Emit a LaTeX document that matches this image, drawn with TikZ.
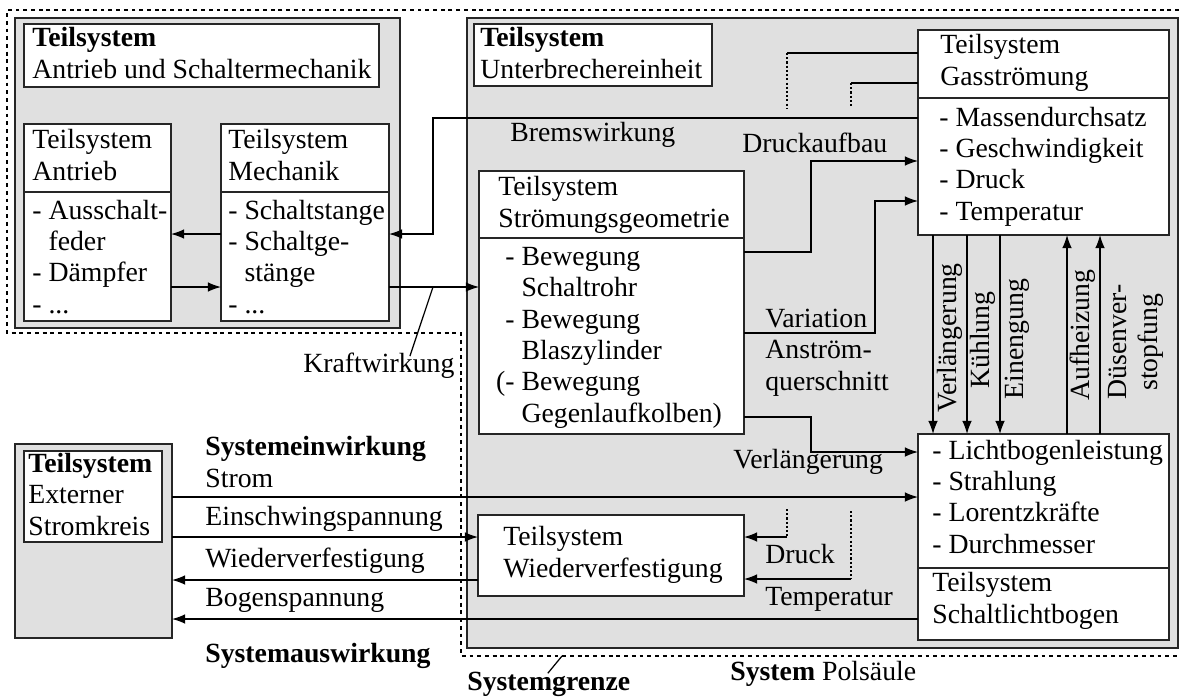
\documentclass[tikz,border=0pt]{standalone}
\usepackage{fontspec}
\setmainfont{Liberation Serif}
\usetikzlibrary{arrows.meta, positioning, fit, calc}

\begin{document}
\begin{tikzpicture}[x=0.02cm, y=-0.02cm, font=\fontsize{15.8}{17.8}\selectfont]%[scale=.8]
    \tikzset{SysBox/.style = {draw=black!85, line width=0.9pt, fill=black!12, inner sep=0, outer sep=0}}
    \tikzset{SubBox/.style = {draw=black!85, line width=0.9pt, fill=white, inner sep=0, outer sep=0}}
    \tikzset{Txt/.style = {anchor=base west, inner sep=0, align=left}}
    \tikzset{EdgeStyle/.style = {line width=0.7pt, -{Latex[length=7.5pt, width=5.5pt]}}}
    \tikzset{EdgeStyleNoArrow/.style = {line width=0.7pt}}
    \tikzset{GapStyle/.style = {line width=0.7pt, dash pattern=on 1.2pt off 1.2pt}}
    \tikzset{GrenzeStyle/.style = {line width=0.8pt, dash pattern=on 2.2pt off 2.2pt}}
    \useasboundingbox (0,0) rectangle (1179,697);
    % Systemgrenze
    \draw[GrenzeStyle] (1179,10) -- (7,10) -- (7,333) -- (461,333) -- (461,656) -- (1179,656);
    \node[SysBox, fit={(15,18) (400,328)}] (am) {};
    \node[SysBox, fit={(467,18) (1178,648)}] (ps) {};
    \node[SysBox, fit={(15,444) (172,638)}] (ext) {};
    \node[SubBox, fit={(24,24) (379,87)}] (tam) {};
    \node[SubBox, fit={(474,24) (712,86)}] (tue) {};
    \node[SubBox, fit={(24,451) (162,542)}] (tsk) {};
    % base = last line
    \node[Txt] (tamtxt) at (32,78) {\textbf{Teilsystem}\\Antrieb und Schaltermechanik};
    \node[Txt] (tuetxt) at (480,78) {\textbf{Teilsystem}\\Unterbrechereinheit};
    \node[Txt] (tsktxt) at (28,535) {\textbf{Teilsystem}\\Externer\\Stromkreis};
    % Teilsysteme
    \node[SubBox, fit={(24,124) (171,321)}] (antr) {};
    \node[SubBox, fit={(221,124) (389,321)}] (mech) {};
    \node[SubBox, fit={(918,30) (1169,235)}] (gas) {};
    \node[SubBox, fit={(479,171) (744,434)}] (geo) {};
    \node[SubBox, fit={(478,515) (744,596)}] (wv) {};
    \node[SubBox, fit={(918,434) (1169,640)}] (slb) {};
    \draw[SubBox] (antr.west |- 0,192) -- (antr.east |- 0,192);
    \draw[SubBox] (mech.west |- 0,192) -- (mech.east |- 0,192);
    \draw[SubBox] (gas.west |- 0,98) -- (gas.east |- 0,98);
    \draw[SubBox] (geo.west |- 0,238) -- (geo.east |- 0,238);
    \draw[SubBox] (slb.west |- 0,568) -- (slb.east |- 0,568);
    \node[Txt] (antrtit) at (32,180) {Teilsystem\\Antrieb};
    \node[Txt] (antrlst) at (32,313) {- Ausschalt-\\\phantom{- }feder\\- Dämpfer\\- ...};
    \node[Txt] (mechtit) at (228,180) {Teilsystem\\Mechanik};
    \node[Txt] (mechlst) at (228,313) {- Schaltstange\\- Schaltge-\\\phantom{- }stänge\\- ...};
    \node[Txt] (gastit) at (940,85) {Teilsystem\\Gasströmung};
    \node[Txt] (gaslst) at (939,220) {- Massendurchsatz\\- Geschwindigkeit\\- Druck\\- Temperatur};
    \node[Txt] (geotit) at (498,227) {Teilsystem\\Strömungsgeometrie};
    \node[Txt] (geolst) at (505,422) {- Bewegung\\\phantom{- }Schaltrohr\\- Bewegung\\\phantom{- }Blaszylinder\\\llap{(}- Bewegung\\\phantom{- }Gegenlaufkolben)};
    \node[Txt] (wvtit) at (503,577) {Teilsystem\\Wiederverfestigung};
    \node[Txt] (slblst) at (932,553) {- Lichtbogenleistung\\- Strahlung\\- Lorentzkräfte\\- Durchmesser};
    \node[Txt] (slbtit) at (932,623) {Teilsystem\\Schaltlichtbogen};
    % Beschriftungen
    \node[Txt] (brems) at (510,141) {Bremswirkung};
    \node[Txt] (druckauf) at (742,152) {Druckaufbau};
    \node[Txt] (variation) at (765,390) {Variation\\Anström-\\querschnitt};
    \node[Txt] (verl) at (733,468) {Verlängerung};
    \node[Txt] (druck) at (765,563) {Druck};
    \node[Txt] (temp) at (765,605) {Temperatur};
    \node[Txt] (kraft) at (303,372) {Kraftwirkung};
    \node[Txt] (einw) at (205,487) {\textbf{Systemeinwirkung}\\Strom};
    \node[Txt] (einsch) at (205,525) {Einschwingspannung};
    \node[Txt] (wieder) at (205,567) {Wiederverfestigung};
    \node[Txt] (bogen) at (205,606) {Bogenspannung};
    \node[Txt] (ausw) at (205,662) {\textbf{Systemauswirkung}};
    \node[Txt] (sgr) at (467,690) {\textbf{Systemgrenze}};
    \node[Txt] (pols) at (730,680) {\textbf{System} Polsäule};
    \node[rotate=90, inner sep=0] (vverl) at (950,338) {Verlängerung};
    \node[rotate=90, inner sep=0] (vkuehl) at (983,340) {Kühlung};
    \node[rotate=90, inner sep=0] (veng) at (1017,339) {Einengung};
    \node[rotate=90, inner sep=0] (vauf) at (1083,335) {Aufheizung};
    \node[rotate=90, inner sep=0, align=center] (vduese) at (1136,342) {Düsenver-\\stopfung};
    % Verbindungen
    \coordinate (bk) at (433,234);
    \coordinate (kw) at (433,287);
    \coordinate (da) at (811,161);
    \coordinate (va) at (875,201);
    \coordinate (vl) at (811,452);
    \coordinate (sg) at (562,656);
    \draw[EdgeStyle] (gas.west |- 0,118) -| (bk) -- (mech.east |- bk);
    \draw[EdgeStyle] (mech.west |- bk) -- (antr.east |- bk);
    \draw[EdgeStyle] (antr.east |- kw) -- (mech.west |- kw);
    \draw[EdgeStyle] (mech.east |- kw) -- (geo.west |- kw);
    \draw[EdgeStyleNoArrow] (kw) -- ($(kraft.north)+(31,4)$);
    \draw[EdgeStyle] (geo.east |- 0,252) -| (da) -- (gas.west |- da);
    \draw[EdgeStyle] (geo.east |- 0,333) -| (va) -- (gas.west |- va);
    \draw[EdgeStyle] (geo.east |- 0,417) -| (vl) -- (slb.west |- vl);
    \draw[EdgeStyle] (ext.east |- 0,497) -- (slb.west |- 0,497);
    \draw[EdgeStyle] (ext.east |- 0,537) -- (wv.west |- 0,537);
    \draw[EdgeStyle] (wv.west |- 0,580) -- (ext.east |- 0,580);
    \draw[EdgeStyle] (slb.west |- 0,619) -- (ext.east |- 0,619);
    \draw[EdgeStyleNoArrow] (gas.west |- 0,53) -- (787,53);
    \draw[GapStyle] (787,53) -- (787,108);
    \draw[EdgeStyleNoArrow] (gas.west |- 0,83) -- (851,83);
    \draw[GapStyle] (851,83) -- (851,108);
    \draw[GapStyle] (787,509) -- (787,537);
    \draw[EdgeStyle] (787,537) -- (wv.east |- 0,537);
    \draw[GapStyle] (851,511) -- (851,579);
    \draw[EdgeStyle] (851,579) -- (wv.east |- 0,579);
    \foreach \x in {933, 967, 1000} {
        \draw[EdgeStyle] (gas.south -| \x,0) -- (slb.north -| \x,0);
    }
    \foreach \x in {1067, 1100} {
        \draw[EdgeStyle] (slb.north -| \x,0) -- (gas.south -| \x,0);
    }
    \draw[EdgeStyleNoArrow] (sg) -- ($(sgr.north)+(-1,2)$);
\end{tikzpicture}
\end{document}
